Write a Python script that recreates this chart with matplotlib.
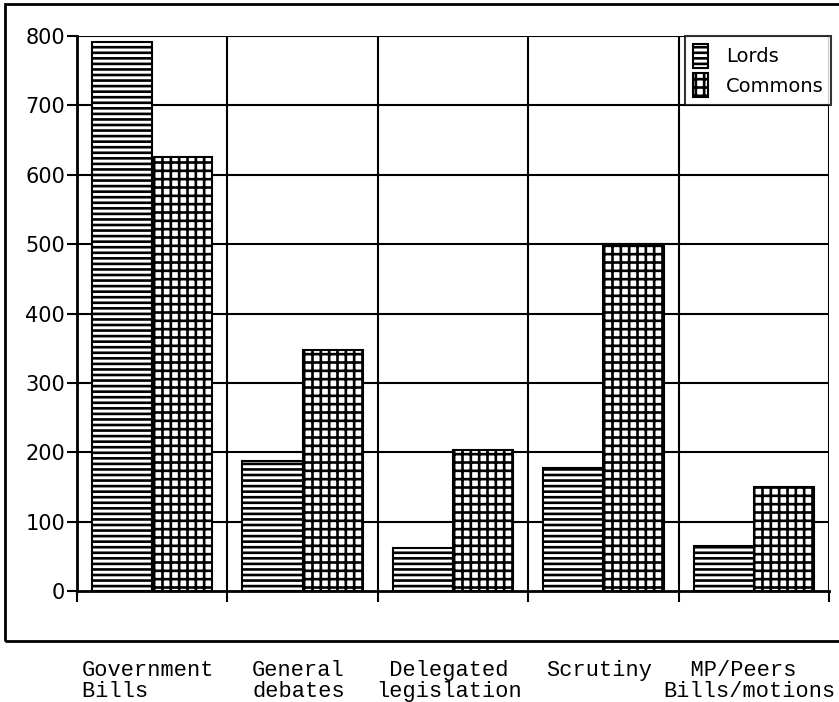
import matplotlib.pyplot as plt
from matplotlib.patches import Rectangle
import numpy as np

plt.close('all')

categories = ['Government\nBills     ', 'General\ndebates',
              ' Delegated \nlegislation', 'Scrutiny', '  MP/Peers   \nBills/motions']
lords = [792, 187, 62, 178, 65]
commons = [625, 348, 203, 500, 150]
yticks = [0, 100, 200, 300, 400, 500, 600, 700, 800]

plt.rcParams['hatch.linewidth'] = 1.9
plt.rcParams['hatch.color'] = 'black'

W, H = 839, 702
fig = plt.figure(figsize=(W / 100, H / 100), dpi=100)

# outer frame round the chart (its right side runs off the picture)
fig.patches.append(Rectangle((5 / W, 1 - 641 / H), (860 - 5) / W, (641 - 4) / H,
                             transform=fig.transFigure, fill=False,
                             edgecolor='black', linewidth=2, zorder=0))

ax = fig.add_axes([77 / W, 1 - 591 / H, (829 - 77) / W, (591 - 36) / H])

x = np.arange(len(categories))
bw = 0.4
ax.bar(x - bw / 2, lords, bw, facecolor='white', edgecolor='black',
       linewidth=1.5, hatch='---', zorder=3, label='Lords')
ax.bar(x + bw / 2, commons, bw, facecolor='white', edgecolor='black',
       linewidth=1.5, hatch='++', zorder=3, label='Commons')

ax.set_xlim(-0.5, len(categories) - 0.5)
ax.set_ylim(0, 800)

# grid lines: horizontal at every 100, vertical between categories
for y in yticks[1:]:
    ax.axhline(y, color='black', linewidth=1.5, zorder=1)
for b in np.arange(-0.5, len(categories), 1.0):
    ax.axvline(b, color='black', linewidth=1.5, zorder=1)

for s in ['top', 'right']:
    ax.spines[s].set_visible(False)
ax.spines['left'].set_linewidth(2)
ax.spines['bottom'].set_linewidth(2)

ax.set_yticks(yticks)
ax.set_yticklabels([str(v) for v in yticks], fontsize=15)
ax.set_xticks(np.arange(-0.5, len(categories), 1.0))
ax.set_xticklabels([])
ax.tick_params(axis='y', direction='out', length=7, width=1.5, pad=1.5)
ax.tick_params(axis='x', direction='out', length=8, width=1.5)

for i, lab in enumerate(categories):
    ax.text(i - 0.027, -0.125, lab, transform=ax.get_xaxis_transform(), ha='center',
            va='top', family='Liberation Mono', fontsize=15.8,
            multialignment='left', linespacing=0.95)

leg = ax.legend(loc='upper right', bbox_to_anchor=(1.003, 1.0), borderaxespad=0,
                fontsize=14, frameon=True, fancybox=False, handlelength=0.8,
                handleheight=1.5, handletextpad=0.9, labelspacing=0.3,
                borderpad=0.4)
leg.get_frame().set_edgecolor('black')
leg.get_frame().set_linewidth(1.5)
leg.set_zorder(5)

fig.savefig('out.png', dpi=100)
